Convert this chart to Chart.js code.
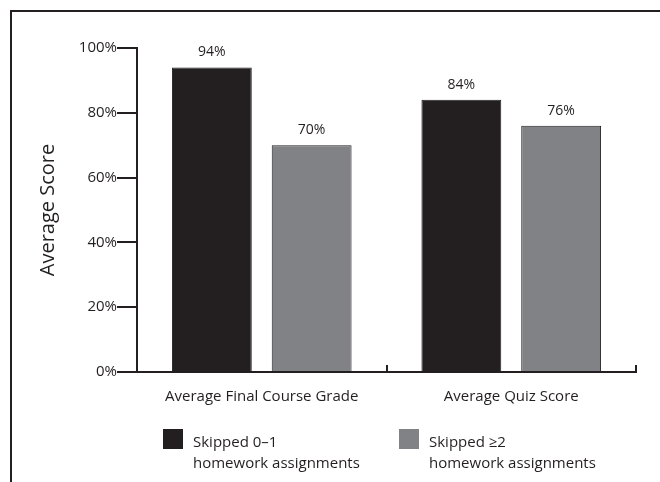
<!DOCTYPE html>
<html>
<head>
<meta charset="utf-8">
<script src="https://cdn.jsdelivr.net/npm/chart.js@4"></script>
<style>
  html, body { margin: 0; padding: 0; background: #fff; }
  #wrap { position: relative; width: 660px; height: 482px; overflow: hidden; }
  #frame {
    position: absolute; left: 10px; top: 10px; width: 660px; height: 482px;
    border-top: 2px solid #231f20; border-left: 2px solid #231f20;
  }
  canvas { position: absolute; left: 0; top: 0; }
  #legend {
    position: absolute; left: 163px; top: 429px; display: flex;
    font-family: 'Open Sans', sans-serif; font-size: 15px; line-height: 21px; color: #231f20;
  }
  #legend .item { display: flex; width: 236px; }
  #legend .box { width: 20px; height: 20px; flex: none; margin-right: 10px; }
  #legend .text { margin-top: 2px; white-space: nowrap; }
</style>
</head>
<body>
<div id="wrap">
  <div id="frame"></div>
  <canvas id="score-chart" width="660" height="482"></canvas>
  <div id="legend"></div>
</div>
<script>
const categories = ['Average Final Course Grade', 'Average Quiz Score'];
const skippedFew = [94, 84];
const skippedMany = [70, 76];
const seriesLabels = [
    ['Skipped 0\u20131', 'homework assignments'],
    ['Skipped \u22652', 'homework assignments']
];
const yTicks = [0, 20, 40, 60, 80, 100];

const ink = '#231f20';
const font = 'Open Sans';

// value labels above each bar
const barValues = {
    id: 'barValues',
    afterDatasetsDraw(chart) {
        const ctx = chart.ctx;
        ctx.save();
        ctx.font = '14px "' + font + '"';
        ctx.fillStyle = ink;
        ctx.textAlign = 'center';
        ctx.textBaseline = 'middle';
        chart.data.datasets.forEach((ds, i) => {
            chart.getDatasetMeta(i).data.forEach((bar, j) => {
                ctx.fillText(ds.data[j] + '%', bar.x, bar.y - 15);
            });
        });
        ctx.restore();
    }
};

const ctx = document.getElementById('score-chart').getContext('2d');
const scoreChart = new Chart(ctx, {
    type: 'bar',
    data: {
        labels: categories,
        datasets: [
            {
                label: seriesLabels[0],
                data: skippedFew,
                backgroundColor: ink,
                borderColor: ink,
                borderWidth: 1,
                barPercentage: 0.8,
            },
            {
                label: seriesLabels[1],
                data: skippedMany,
                backgroundColor: '#808285',
                borderColor: ink,
                borderWidth: 1,
                barPercentage: 0.8,
            }
        ]
    },
    options: {
        responsive: false,
        animation: false,
        layout: { padding: { top: 48, right: 24, bottom: 70, left: 0 } },
        plugins: {
            legend: { display: false },
            tooltip: { enabled: false }
        },
        scales: {
            x: {
                grid: { offset: true, drawOnChartArea: false, color: ink, lineWidth: 2, tickLength: -7 },
                border: { color: ink, width: 2 },
                ticks: { font: { family: font, size: 15 }, color: ink, padding: 23, maxRotation: 0 },
                afterFit: scale => { scale.height = 40; }
            },
            y: {
                min: 0,
                max: 100,
                afterBuildTicks: scale => { scale.ticks = yTicks.map(v => ({ value: v })); },
                grid: { drawOnChartArea: false, color: ink, lineWidth: 2, tickLength: 20 },
                border: { color: ink, width: 2 },
                ticks: { font: { family: font, size: 15 }, color: ink, padding: 0, callback: v => v + '%' },
                title: {
                    display: true, text: 'Average Score', color: ink,
                    font: { family: font, size: 20 }, padding: { top: 36, bottom: 0 }
                },
                afterFit: scale => { scale.width = 137; }
            }
        }
    },
    plugins: [barValues]
});

// legend below the plot, built from the chart's own legend items
const legendEl = document.getElementById('legend');
scoreChart.options.plugins.legend.labels.generateLabels(scoreChart).forEach(item => {
    const row = document.createElement('div');
    row.className = 'item';
    const box = document.createElement('div');
    box.className = 'box';
    box.style.background = item.fillStyle;
    const text = document.createElement('div');
    text.className = 'text';
    [].concat(item.text).forEach(line => {
        const l = document.createElement('div');
        l.textContent = line;
        text.appendChild(l);
    });
    row.appendChild(box);
    row.appendChild(text);
    legendEl.appendChild(row);
});
</script>
</body>
</html>
